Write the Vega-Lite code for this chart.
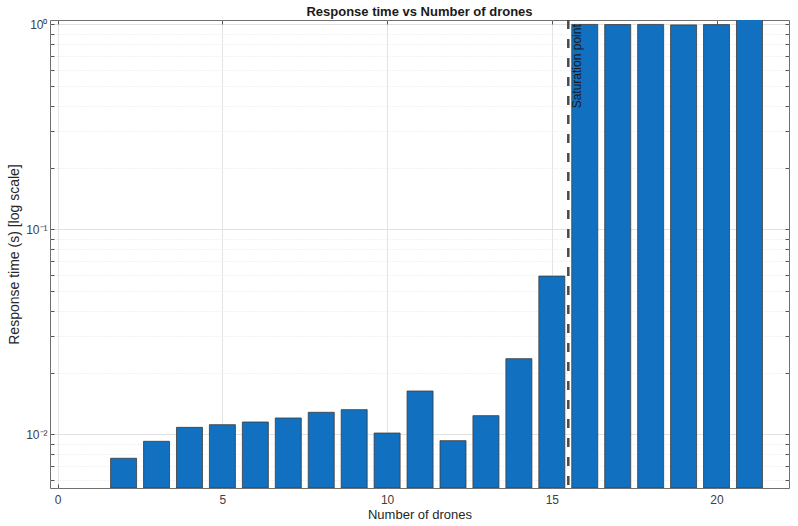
{
  "$schema": "https://vega.github.io/schema/vega-lite/v6.json",
  "width": 739,
  "height": 468,
  "autosize": {"type": "none"},
  "padding": {"left": 50, "top": 20, "right": 9, "bottom": 38},
  "background": "white",
  "config": {
    "font": "Liberation Sans",
    "view": {"stroke": "#6f6f6f", "strokeWidth": 1},
    "axis": {"domain": false, "labelColor": "#404040", "labelFont": "Liberation Sans", "labelFontSize": 12, "titleFont": "Liberation Sans", "titleFontWeight": "normal", "titleColor": "#262626", "titleFontSize": 13, "tickColor": "#555555", "tickWidth": 1, "gridColor": "#e4e4e4", "gridWidth": 1, "labelOverlap": false, "labelBound": false}
  },
  "title": {"text": "Response time vs Number of drones", "fontSize": 13, "fontWeight": "bold", "color": "#1a1a1a", "font": "Liberation Sans", "anchor": "middle", "offset": -1},
  "data": {
    "values": [
      {"drones": 2, "time": 0.00764},
      {"drones": 3, "time": 0.00924},
      {"drones": 4, "time": 0.01081},
      {"drones": 5, "time": 0.01114},
      {"drones": 6, "time": 0.01148},
      {"drones": 7, "time": 0.01201},
      {"drones": 8, "time": 0.0128},
      {"drones": 9, "time": 0.01319},
      {"drones": 10, "time": 0.01014},
      {"drones": 11, "time": 0.01626},
      {"drones": 12, "time": 0.00931},
      {"drones": 13, "time": 0.01233},
      {"drones": 14, "time": 0.02338},
      {"drones": 15, "time": 0.0591},
      {"drones": 16, "time": 0.998},
      {"drones": 17, "time": 0.997},
      {"drones": 18, "time": 0.998},
      {"drones": 19, "time": 0.993},
      {"drones": 20, "time": 0.996},
      {"drones": 21, "time": 1.12}
    ]
  },
  "layer": [
    {
      "mark": {"type": "bar", "width": 26, "fill": "#1170bf", "stroke": "#3c3c3c", "strokeWidth": 0.8, "clip": true},
      "encoding": {
        "x": {
          "field": "drones", "type": "quantitative",
          "scale": {"domain": [-0.234, 22.2], "nice": false, "zero": false, "padding": 0},
          "axis": {"orient": "bottom", "title": "Number of drones", "values": [0, 5, 10, 15, 20], "ticks": true, "tickSize": -4, "labelPadding": 10, "titlePadding": 3, "grid": true}
        },
        "y": {
          "field": "time", "type": "quantitative",
          "scale": {"type": "log", "domain": [0.00547, 1.049], "nice": false, "padding": 0},
          "axis": {
            "orient": "left",
            "title": "Response time (s) [log scale]",
            "titleFontSize": 14,
            "titlePadding": 4,
            "values": [0.006, 0.007, 0.008, 0.009, 0.01, 0.02, 0.03, 0.04, 0.05, 0.06, 0.07, 0.08, 0.09, 0.1, 0.2, 0.3, 0.4, 0.5, 0.6, 0.7, 0.8, 0.9, 1],
            "labelExpr": "datum.value == 1 ? '10⁰' : datum.value == 0.1 ? '10⁻¹' : datum.value == 0.01 ? '10⁻²' : ''",
            "grid": true,
            "gridDash": {"condition": {"test": "datum.value == 1 || datum.value == 0.1 || datum.value == 0.01", "value": []}, "value": [1, 2]},
            "gridColor": {"condition": {"test": "datum.value == 1 || datum.value == 0.1 || datum.value == 0.01", "value": "#e2e2e2"}, "value": "#e6e6e6"},
            "tickSize": -4,
            "labelPadding": 7
          }
        },
        "y2": {"datum": 0.00547}
      }
    },
    {
      "data": {"values": [{"label": "Saturation point"}]},
      "mark": {"type": "rule", "stroke": "#4a4a4a", "strokeWidth": 2.5, "strokeDash": [9, 10]},
      "encoding": {"x": {"datum": 15.5, "type": "quantitative", "axis": null}}
    },
    {
      "data": {"values": [{"label": "Saturation point"}]},
      "mark": {"type": "text", "angle": 270, "align": "right", "baseline": "top", "dy": 4, "fontSize": 12, "font": "Liberation Sans", "color": "#1a1a1a"},
      "encoding": {
        "text": {"field": "label"},
        "x": {"datum": 15.5, "type": "quantitative", "axis": {"orient": "top", "labels": false, "title": null, "grid": false, "values": [0, 5, 10, 15, 20], "tickSize": -4}},
        "y": {"datum": 1.0, "type": "quantitative", "axis": {"orient": "right", "labels": false, "title": null, "grid": false, "values": [0.006, 0.007, 0.008, 0.009, 0.01, 0.02, 0.03, 0.04, 0.05, 0.06, 0.07, 0.08, 0.09, 0.1, 0.2, 0.3, 0.4, 0.5, 0.6, 0.7, 0.8, 0.9, 1], "tickSize": -4}}
      }
    }
  ],
  "resolve": {"axis": {"x": "independent", "y": "independent"}}
}
